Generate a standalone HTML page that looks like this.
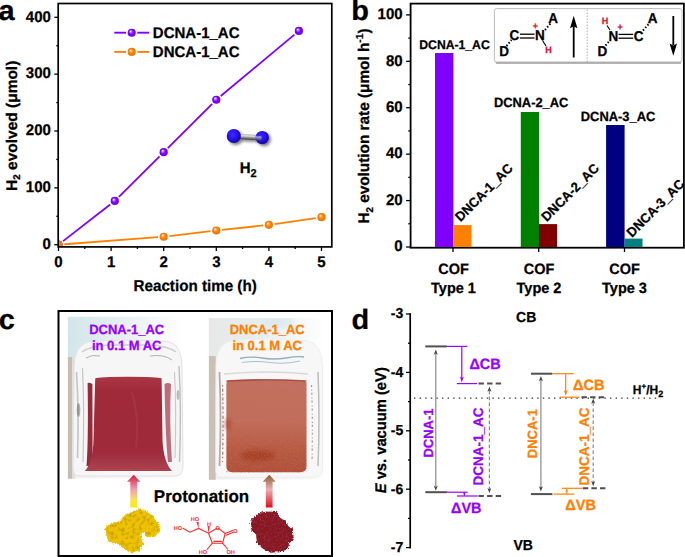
<!DOCTYPE html><html><head><meta charset="utf-8"><style>html,body{margin:0;padding:0;background:#fff;width:685px;height:557px;overflow:hidden}svg{position:absolute;left:0;top:0}text{font-family:"Liberation Sans",sans-serif;font-weight:bold;text-rendering:geometricPrecision}</style></head><body>
<svg width="685" height="557" viewBox="0 0 685 557">
<defs><radialGradient id="gp" cx="0.5" cy="0.5" r="0.5" fx="0.33" fy="0.3"><stop offset="0" stop-color="#ffffff"/><stop offset="0.3" stop-color="#b070ff"/><stop offset="0.55" stop-color="#8000ff"/><stop offset="1" stop-color="#7000ea"/></radialGradient><radialGradient id="go" cx="0.5" cy="0.5" r="0.5" fx="0.33" fy="0.3"><stop offset="0" stop-color="#ffffff"/><stop offset="0.3" stop-color="#ffb060"/><stop offset="0.55" stop-color="#ff8000"/><stop offset="1" stop-color="#f07400"/></radialGradient><radialGradient id="ball" cx="0.42" cy="0.4" r="0.62"><stop offset="0" stop-color="#3c2cff"/><stop offset="0.55" stop-color="#2612ee"/><stop offset="1" stop-color="#120690"/></radialGradient><linearGradient id="bond" x1="0" y1="0" x2="0" y2="1"><stop offset="0" stop-color="#b0b0b0"/><stop offset="0.3" stop-color="#e0e0e0"/><stop offset="1" stop-color="#303030"/></linearGradient><filter id="shadow" x="-30%" y="-30%" width="160%" height="160%"><feGaussianBlur in="SourceAlpha" stdDeviation="1.5"/><feOffset dx="1.5" dy="2" result="o"/><feComponentTransfer><feFuncA type="linear" slope="0.5"/></feComponentTransfer><feMerge><feMergeNode/><feMergeNode in="SourceGraphic"/></feMerge></filter><clipPath id="clip1"><rect x="67.7" y="316.6" width="118.5" height="162.1"/></clipPath><clipPath id="clip2"><rect x="208.7" y="318.1" width="117" height="161.6"/></clipPath><linearGradient id="sky1" x1="0" y1="0" x2="1" y2="0"><stop offset="0" stop-color="#d2e6e9"/><stop offset="0.5" stop-color="#e8f1f2"/><stop offset="0.8" stop-color="#f8fafa"/><stop offset="1" stop-color="#ffffff"/></linearGradient><linearGradient id="sky2" x1="0" y1="0" x2="1" y2="0"><stop offset="0" stop-color="#e8e8e8"/><stop offset="0.45" stop-color="#e6eef0"/><stop offset="0.7" stop-color="#f2f5f6"/><stop offset="1" stop-color="#ffffff"/></linearGradient><linearGradient id="liq1" x1="0" y1="0" x2="0" y2="1"><stop offset="0" stop-color="#aa3644"/><stop offset="0.15" stop-color="#a02a3a"/><stop offset="0.8" stop-color="#9e2a3a"/><stop offset="1" stop-color="#ac4450"/></linearGradient><linearGradient id="liq2" x1="0" y1="0" x2="0" y2="1"><stop offset="0" stop-color="#c47060"/><stop offset="0.45" stop-color="#c26e5c"/><stop offset="0.72" stop-color="#b95c44"/><stop offset="1" stop-color="#b0503a"/></linearGradient><pattern id="grain" width="4" height="4" patternUnits="userSpaceOnUse"><rect width="4" height="4" fill="none"/><rect x="0" y="0" width="1" height="1" fill="#7a2a18"/><rect x="2" y="2" width="1" height="1" fill="#d88070"/><rect x="3" y="1" width="1" height="1" fill="#8a3020"/></pattern><linearGradient id="arr1" x1="0" y1="0" x2="0" y2="1"><stop offset="0" stop-color="#d21c3c"/><stop offset="0.45" stop-color="#eea0b0"/><stop offset="0.75" stop-color="#f6e060"/><stop offset="1" stop-color="#f8ec00"/></linearGradient><linearGradient id="arr2" x1="0" y1="0" x2="0" y2="1"><stop offset="0" stop-color="#8a5a2c"/><stop offset="0.45" stop-color="#eab0b4"/><stop offset="1" stop-color="#e0101e"/></linearGradient><pattern id="ytex" width="5" height="5" patternUnits="userSpaceOnUse"><rect x="0" y="0" width="2" height="2" fill="#c89a00"/><rect x="3" y="2" width="2" height="2" fill="#f8e040"/><rect x="1" y="3" width="1" height="1" fill="#b08000"/></pattern><pattern id="rtex" width="4" height="4" patternUnits="userSpaceOnUse"><rect x="0" y="0" width="1.5" height="1.5" fill="#5a0c10"/><rect x="2" y="2" width="1.5" height="1.5" fill="#b02a2e"/><rect x="3" y="0" width="1" height="1" fill="#6a1014"/></pattern><filter id="rough" x="-10%" y="-10%" width="120%" height="120%"><feTurbulence type="turbulence" baseFrequency="0.45" numOctaves="2" seed="4" result="t"/><feDisplacementMap in="SourceGraphic" in2="t" scale="3.5" xChannelSelector="R" yChannelSelector="G"/></filter><filter id="speckD" x="0" y="0" width="100%" height="100%"><feTurbulence type="fractalNoise" baseFrequency="0.28" numOctaves="2" seed="7"/><feColorMatrix type="matrix" values="0 0 0 0 0.35  0 0 0 0 0.2  0 0 0 0 0  0 0 0 -3.2 1.75"/><feComposite in2="SourceGraphic" operator="in"/></filter><filter id="speckL" x="0" y="0" width="100%" height="100%"><feTurbulence type="fractalNoise" baseFrequency="0.3" numOctaves="2" seed="11"/><feColorMatrix type="matrix" values="0 0 0 0 1  0 0 0 0 0.93  0 0 0 0 0.3  0 0 0 3.0 -1.9"/><feComposite in2="SourceGraphic" operator="in"/></filter><filter id="speckR" x="0" y="0" width="100%" height="100%"><feTurbulence type="fractalNoise" baseFrequency="0.6" numOctaves="2" seed="13"/><feColorMatrix type="matrix" values="0 0 0 0 0.72  0 0 0 0 0.16  0 0 0 0 0.18  0 0 0 3.0 -1.9"/><feComposite in2="SourceGraphic" operator="in"/></filter><filter id="grainf" x="0" y="0" width="100%" height="100%"><feTurbulence type="fractalNoise" baseFrequency="0.7" numOctaves="2" seed="5"/><feColorMatrix type="matrix" values="0 0 0 0 0.5  0 0 0 0 0.16  0 0 0 0 0.1  0 0 0 -3.0 1.55"/></filter><linearGradient id="bg1" x1="0" y1="0" x2="1" y2="0"><stop offset="0" stop-color="#f2f2f2"/><stop offset="0.85" stop-color="#f8f8f8"/><stop offset="1" stop-color="#ffffff"/></linearGradient><linearGradient id="bg2" x1="0" y1="0" x2="1" y2="0"><stop offset="0" stop-color="#eeeeee"/><stop offset="0.85" stop-color="#f6f6f6"/><stop offset="1" stop-color="#ffffff"/></linearGradient><filter id="speckD2" x="0" y="0" width="100%" height="100%"><feTurbulence type="fractalNoise" baseFrequency="0.5" numOctaves="2" seed="9"/><feColorMatrix type="matrix" values="0 0 0 0 0.3  0 0 0 0 0.03  0 0 0 0 0.05  0 0 0 -3.2 1.75"/><feComposite in2="SourceGraphic" operator="in"/></filter><filter id="blur2" x="-50%" y="-50%" width="200%" height="200%"><feGaussianBlur stdDeviation="2"/></filter><clipPath id="clipa"><rect x="58.6" y="3.5" width="273" height="243"/></clipPath></defs>
<g id="pa">
<line x1="54.30" y1="244.70" x2="58.50" y2="244.70" stroke="#000" stroke-width="1.3"/>
<text transform="translate(50.90,248.90) scale(1,1.03)" font-size="15" text-anchor="end" stroke="#000" stroke-width="0.25">0</text>
<line x1="56.30" y1="216.27" x2="58.50" y2="216.27" stroke="#000" stroke-width="1.3"/>
<line x1="54.30" y1="187.85" x2="58.50" y2="187.85" stroke="#000" stroke-width="1.3"/>
<text transform="translate(50.90,192.05) scale(1,1.03)" font-size="15" text-anchor="end" stroke="#000" stroke-width="0.25">100</text>
<line x1="56.30" y1="159.42" x2="58.50" y2="159.42" stroke="#000" stroke-width="1.3"/>
<line x1="54.30" y1="131.00" x2="58.50" y2="131.00" stroke="#000" stroke-width="1.3"/>
<text transform="translate(50.90,135.20) scale(1,1.03)" font-size="15" text-anchor="end" stroke="#000" stroke-width="0.25">200</text>
<line x1="56.30" y1="102.57" x2="58.50" y2="102.57" stroke="#000" stroke-width="1.3"/>
<line x1="54.30" y1="74.15" x2="58.50" y2="74.15" stroke="#000" stroke-width="1.3"/>
<text transform="translate(50.90,78.35) scale(1,1.03)" font-size="15" text-anchor="end" stroke="#000" stroke-width="0.25">300</text>
<line x1="56.30" y1="45.72" x2="58.50" y2="45.72" stroke="#000" stroke-width="1.3"/>
<line x1="54.30" y1="17.30" x2="58.50" y2="17.30" stroke="#000" stroke-width="1.3"/>
<text transform="translate(50.90,21.50) scale(1,1.03)" font-size="15" text-anchor="end" stroke="#000" stroke-width="0.25">400</text>
<line x1="58.50" y1="246.80" x2="58.50" y2="251.00" stroke="#000" stroke-width="1.3"/>
<text transform="translate(58.50,267.40) scale(1,1.03)" font-size="15" text-anchor="middle" stroke="#000" stroke-width="0.25">0</text>
<line x1="84.80" y1="246.80" x2="84.80" y2="249.00" stroke="#000" stroke-width="1.3"/>
<line x1="111.10" y1="246.80" x2="111.10" y2="251.00" stroke="#000" stroke-width="1.3"/>
<text transform="translate(111.10,267.40) scale(1,1.03)" font-size="15" text-anchor="middle" stroke="#000" stroke-width="0.25">1</text>
<line x1="137.40" y1="246.80" x2="137.40" y2="249.00" stroke="#000" stroke-width="1.3"/>
<line x1="163.70" y1="246.80" x2="163.70" y2="251.00" stroke="#000" stroke-width="1.3"/>
<text transform="translate(163.70,267.40) scale(1,1.03)" font-size="15" text-anchor="middle" stroke="#000" stroke-width="0.25">2</text>
<line x1="190.00" y1="246.80" x2="190.00" y2="249.00" stroke="#000" stroke-width="1.3"/>
<line x1="216.30" y1="246.80" x2="216.30" y2="251.00" stroke="#000" stroke-width="1.3"/>
<text transform="translate(216.30,267.40) scale(1,1.03)" font-size="15" text-anchor="middle" stroke="#000" stroke-width="0.25">3</text>
<line x1="242.60" y1="246.80" x2="242.60" y2="249.00" stroke="#000" stroke-width="1.3"/>
<line x1="268.90" y1="246.80" x2="268.90" y2="251.00" stroke="#000" stroke-width="1.3"/>
<text transform="translate(268.90,267.40) scale(1,1.03)" font-size="15" text-anchor="middle" stroke="#000" stroke-width="0.25">4</text>
<line x1="295.20" y1="246.80" x2="295.20" y2="249.00" stroke="#000" stroke-width="1.3"/>
<line x1="321.50" y1="246.80" x2="321.50" y2="251.00" stroke="#000" stroke-width="1.3"/>
<text transform="translate(321.50,267.40) scale(1,1.03)" font-size="15" text-anchor="middle" stroke="#000" stroke-width="0.25">5</text>
<text transform="translate(195.15,291.30) scale(1,1.03)" font-size="15.2" text-anchor="middle" stroke="#000" stroke-width="0.25">Reaction time (h)</text>
<text transform="translate(16.90,190.90) rotate(-90) scale(1.032,1.03)" font-size="15" stroke="#000" stroke-width="0.25">H<tspan font-size="9.5" dy="3.3">2</tspan><tspan dy="-3.3"> evolved (μmol)</tspan></text>
<text transform="translate(-1.60,20.20) scale(1,0.965)" font-size="29" stroke="#000" stroke-width="0.25">a</text>
<g clip-path="url(#clipa)">
<line x1="63.08" y1="241.14" x2="110.20" y2="204.49" stroke="#8000ff" stroke-width="1.8"/>
<line x1="118.89" y1="196.83" x2="159.59" y2="156.30" stroke="#8000ff" stroke-width="1.8"/>
<line x1="167.81" y1="148.11" x2="212.19" y2="103.83" stroke="#8000ff" stroke-width="1.8"/>
<line x1="220.76" y1="96.02" x2="294.43" y2="34.66" stroke="#8000ff" stroke-width="1.8"/>
<circle cx="58.50" cy="244.70" r="4.1" fill="url(#gp)"/>
<circle cx="114.78" cy="200.93" r="4.1" fill="url(#gp)"/>
<circle cx="163.70" cy="152.21" r="4.1" fill="url(#gp)"/>
<circle cx="216.30" cy="99.73" r="4.1" fill="url(#gp)"/>
<circle cx="298.88" cy="30.94" r="4.1" fill="url(#gp)"/>
<line x1="64.28" y1="244.26" x2="157.92" y2="237.18" stroke="#ff8000" stroke-width="1.8"/>
<line x1="169.46" y1="236.06" x2="210.54" y2="231.17" stroke="#ff8000" stroke-width="1.8"/>
<line x1="222.07" y1="229.87" x2="263.13" y2="225.48" stroke="#ff8000" stroke-width="1.8"/>
<line x1="274.64" y1="224.02" x2="315.76" y2="218.02" stroke="#ff8000" stroke-width="1.8"/>
<circle cx="58.50" cy="244.70" r="4.1" fill="url(#go)"/>
<circle cx="163.70" cy="236.74" r="4.1" fill="url(#go)"/>
<circle cx="216.30" cy="230.49" r="4.1" fill="url(#go)"/>
<circle cx="268.90" cy="224.86" r="4.1" fill="url(#go)"/>
<circle cx="321.50" cy="217.18" r="4.1" fill="url(#go)"/>
</g>
<rect x="58.2" y="3.5" width="273.6" height="243.4" fill="none" stroke="#000" stroke-width="1.7"/>
<line x1="114.30" y1="32.70" x2="126.10" y2="32.70" stroke="#8000ff" stroke-width="1.9"/>
<line x1="137.30" y1="32.70" x2="149.10" y2="32.70" stroke="#8000ff" stroke-width="1.9"/>
<circle cx="131.7" cy="32.7" r="4.05" fill="url(#gp)"/>
<text transform="translate(152.80,37.90) scale(1,1.03)" font-size="15" stroke="#000" stroke-width="0.25">DCNA-1_AC</text>
<line x1="114.30" y1="51.90" x2="126.10" y2="51.90" stroke="#ff8000" stroke-width="1.9"/>
<line x1="137.30" y1="51.90" x2="149.10" y2="51.90" stroke="#ff8000" stroke-width="1.9"/>
<circle cx="131.7" cy="51.9" r="4.05" fill="url(#go)"/>
<text transform="translate(152.80,57.10) scale(1,1.03)" font-size="15" stroke="#000" stroke-width="0.25">DNCA-1_AC</text>
<g filter="url(#shadow)">
<rect x="234" y="134.4" width="27.5" height="5.2" fill="url(#bond)" transform="rotate(3.2 247 137)"/>
<circle cx="233.8" cy="136.0" r="7.1" fill="url(#ball)"/>
<circle cx="262.2" cy="137.6" r="6.7" fill="url(#ball)"/>
<rect x="255.5" y="135.2" width="6" height="5.0" rx="1" fill="url(#bond)" opacity="0.6" transform="rotate(3.2 247 137)"/>
</g>
<text transform="translate(239.70,173.10) scale(1,1.03)" font-size="15" stroke="#000" stroke-width="0.25">H<tspan font-size="11" dy="4">2</tspan></text>
</g>
<g id="pb">
<rect x="410.6" y="3.6" width="273.3" height="244.1" fill="none" stroke="#000" stroke-width="1.8"/>
<line x1="406.10" y1="247.00" x2="410.70" y2="247.00" stroke="#000" stroke-width="1.3"/>
<text transform="translate(402.60,251.20) scale(1,1.03)" font-size="15" text-anchor="end" stroke="#000" stroke-width="0.25">0</text>
<line x1="408.30" y1="223.79" x2="410.70" y2="223.79" stroke="#000" stroke-width="1.3"/>
<line x1="406.10" y1="200.58" x2="410.70" y2="200.58" stroke="#000" stroke-width="1.3"/>
<text transform="translate(402.60,204.78) scale(1,1.03)" font-size="15" text-anchor="end" stroke="#000" stroke-width="0.25">20</text>
<line x1="408.30" y1="177.37" x2="410.70" y2="177.37" stroke="#000" stroke-width="1.3"/>
<line x1="406.10" y1="154.16" x2="410.70" y2="154.16" stroke="#000" stroke-width="1.3"/>
<text transform="translate(402.60,158.36) scale(1,1.03)" font-size="15" text-anchor="end" stroke="#000" stroke-width="0.25">40</text>
<line x1="408.30" y1="130.95" x2="410.70" y2="130.95" stroke="#000" stroke-width="1.3"/>
<line x1="406.10" y1="107.74" x2="410.70" y2="107.74" stroke="#000" stroke-width="1.3"/>
<text transform="translate(402.60,111.94) scale(1,1.03)" font-size="15" text-anchor="end" stroke="#000" stroke-width="0.25">60</text>
<line x1="408.30" y1="84.53" x2="410.70" y2="84.53" stroke="#000" stroke-width="1.3"/>
<line x1="406.10" y1="61.32" x2="410.70" y2="61.32" stroke="#000" stroke-width="1.3"/>
<text transform="translate(402.60,65.52) scale(1,1.03)" font-size="15" text-anchor="end" stroke="#000" stroke-width="0.25">80</text>
<line x1="408.30" y1="38.11" x2="410.70" y2="38.11" stroke="#000" stroke-width="1.3"/>
<line x1="406.10" y1="14.90" x2="410.70" y2="14.90" stroke="#000" stroke-width="1.3"/>
<text transform="translate(402.60,19.10) scale(1,1.03)" font-size="15" text-anchor="end" stroke="#000" stroke-width="0.25">100</text>
<line x1="453.00" y1="247.00" x2="453.00" y2="252.00" stroke="#000" stroke-width="1.3"/>
<line x1="538.70" y1="247.00" x2="538.70" y2="252.00" stroke="#000" stroke-width="1.3"/>
<line x1="624.50" y1="247.00" x2="624.50" y2="252.00" stroke="#000" stroke-width="1.3"/>
<rect x="435" y="53" width="18.40" height="194.00" fill="#8000ff"/>
<rect x="453.4" y="225.1" width="18.10" height="21.90" fill="#ff8000"/>
<rect x="520.8" y="112" width="18.20" height="135.00" fill="#008000"/>
<rect x="539.0" y="224.1" width="18.10" height="22.90" fill="#800000"/>
<rect x="606.1" y="125" width="18.50" height="122.00" fill="#000080"/>
<rect x="624.6" y="238.6" width="17.90" height="8.40" fill="#008080"/>
<text transform="translate(454.50,49.20) scale(1,1.03)" font-size="12.2" text-anchor="middle" stroke="#000" stroke-width="0.25">DCNA-1_AC</text>
<text transform="translate(531.15,107.20) scale(1,1.03)" font-size="12.9" text-anchor="middle" stroke="#000" stroke-width="0.25">DCNA-2_AC</text>
<text transform="translate(618.05,120.90) scale(1,1.03)" font-size="12.9" text-anchor="middle" stroke="#000" stroke-width="0.25">DCNA-3_AC</text>
<text transform="translate(460.50,222.30) rotate(-45) scale(1,1.03)" font-size="13" stroke="#000" stroke-width="0.25">DNCA-1_AC</text>
<text transform="translate(546.70,222.30) rotate(-45) scale(1,1.03)" font-size="13" stroke="#000" stroke-width="0.25">DNCA-2_AC</text>
<text transform="translate(632.00,238.00) rotate(-45) scale(1,1.03)" font-size="13" stroke="#000" stroke-width="0.25">DNCA-3_AC</text>
<text transform="translate(453.50,273.50) scale(1,1.03)" font-size="14.5" text-anchor="middle" stroke="#000" stroke-width="0.25">COF</text>
<text transform="translate(453.50,292.90) scale(1,1.03)" font-size="14.5" text-anchor="middle" stroke="#000" stroke-width="0.25">Type 1</text>
<text transform="translate(539.00,273.50) scale(1,1.03)" font-size="14.5" text-anchor="middle" stroke="#000" stroke-width="0.25">COF</text>
<text transform="translate(539.00,292.90) scale(1,1.03)" font-size="14.5" text-anchor="middle" stroke="#000" stroke-width="0.25">Type 2</text>
<text transform="translate(624.50,273.50) scale(1,1.03)" font-size="14.5" text-anchor="middle" stroke="#000" stroke-width="0.25">COF</text>
<text transform="translate(624.50,292.90) scale(1,1.03)" font-size="14.5" text-anchor="middle" stroke="#000" stroke-width="0.25">Type 3</text>
<text transform="translate(369.20,223.60) rotate(-90) scale(1.022,1.03)" font-size="15" stroke="#000" stroke-width="0.25">H<tspan font-size="9.5" dy="3.3">2</tspan><tspan dy="-3.3"> evolution rate (μmol h</tspan><tspan font-size="10" dy="-6.3">-1</tspan><tspan dy="6.3">)</tspan></text>
<text transform="translate(351.20,20.20) scale(1,0.965)" font-size="29" stroke="#000" stroke-width="0.25">b</text>
<rect x="494.4" y="8.6" width="187.6" height="53.4" rx="2.2" fill="#fff" stroke="#b4b4b4" stroke-width="0.9"/>
<path d="M495.8,62.9 L681,62.9" stroke="#9c9c9c" stroke-width="1.5"/>
<line x1="587.20" y1="9.50" x2="587.20" y2="62.50" stroke="#999" stroke-width="0.8" stroke-dasharray="1.5,1.5"/>
<text transform="translate(499.20,56.20) scale(1,1.05)" font-size="13.5" stroke="#000" stroke-width="0.25">D</text>
<text transform="translate(509.50,40.10) scale(1,1.05)" font-size="13.5" stroke="#000" stroke-width="0.25">C</text>
<text transform="translate(535.00,40.10) scale(1,1.05)" font-size="13.5" stroke="#000" stroke-width="0.25">N</text>
<text transform="translate(548.30,22.60) scale(1,1.05)" font-size="13.5" stroke="#000" stroke-width="0.25">A</text>
<line x1="520.00" y1="34.20" x2="534.50" y2="34.20" stroke="#000" stroke-width="1.3"/>
<line x1="520.00" y1="38.00" x2="534.50" y2="38.00" stroke="#000" stroke-width="1.3"/>
<line x1="506.50" y1="46.00" x2="511.50" y2="40.00" stroke="#000" stroke-width="2.0" stroke-dasharray="1.5,1.9"/>
<line x1="545.00" y1="30.00" x2="550.50" y2="23.50" stroke="#000" stroke-width="2.0" stroke-dasharray="1.5,1.9"/>
<line x1="542.50" y1="40.50" x2="546.00" y2="46.00" stroke="#000" stroke-width="1.1"/>
<text transform="translate(545.20,52.80) scale(1,1.03)" font-size="9" fill="#d4122e" stroke="#d4122e" stroke-width="0.25">H</text>
<text transform="translate(535.30,29.00) scale(1,1.03)" font-size="9" text-anchor="middle" fill="#d4122e" stroke="#d4122e" stroke-width="0.25">+</text>
<line x1="573.70" y1="57.50" x2="573.70" y2="26.00" stroke="#000" stroke-width="1.8"/>
<path d="M573.7,15.8 L577.4,28.2 L573.7,26.3 L570.0,28.2 Z" fill="#000"/>
<text transform="translate(597.40,56.20) scale(1,1.05)" font-size="13.5" stroke="#000" stroke-width="0.25">D</text>
<text transform="translate(608.40,40.60) scale(1,1.05)" font-size="13.5" stroke="#000" stroke-width="0.25">N</text>
<text transform="translate(633.80,40.60) scale(1,1.05)" font-size="13.5" stroke="#000" stroke-width="0.25">C</text>
<text transform="translate(647.80,22.60) scale(1,1.05)" font-size="13.5" stroke="#000" stroke-width="0.25">A</text>
<line x1="618.50" y1="34.40" x2="633.20" y2="34.40" stroke="#000" stroke-width="1.3"/>
<line x1="618.50" y1="38.20" x2="633.20" y2="38.20" stroke="#000" stroke-width="1.3"/>
<line x1="605.50" y1="45.50" x2="609.50" y2="41.00" stroke="#000" stroke-width="2.0" stroke-dasharray="1.5,1.9"/>
<line x1="643.00" y1="30.50" x2="650.00" y2="22.50" stroke="#000" stroke-width="2.0" stroke-dasharray="1.5,1.9"/>
<line x1="607.00" y1="25.50" x2="610.00" y2="30.00" stroke="#000" stroke-width="1.1"/>
<text transform="translate(601.80,23.60) scale(1,1.03)" font-size="9" fill="#d4122e" stroke="#d4122e" stroke-width="0.25">H</text>
<text transform="translate(620.00,29.50) scale(1,1.03)" font-size="9" text-anchor="middle" fill="#d4122e" stroke="#d4122e" stroke-width="0.25">+</text>
<line x1="673.30" y1="16.00" x2="673.30" y2="45.00" stroke="#000" stroke-width="1.8"/>
<path d="M673.3,55.7 L677.0,43.5 L673.3,45.5 L669.6,43.5 Z" fill="#000"/>
</g>
<g id="pc">
<g clip-path="url(#clip1)">
<rect x="67.7" y="316.6" width="118.5" height="162.1" fill="url(#bg1)"/>
<rect x="67.7" y="316.6" width="118.5" height="44" fill="url(#sky1)"/>
<rect x="67.7" y="357" width="4.5" height="122" fill="#c6bcb4"/>
<rect x="72.2" y="357" width="3" height="122" fill="#e2deda"/>
<path d="M74,368 Q74,346 88,342 Q128,338 170,342 Q182,346 182,368 L183,466 Q183,476 175,476 L80,476 Q73,476 73,468 Z" fill="#f6f6f6" stroke="#e2e2e2" stroke-width="1"/>
<path d="M82,352 Q90,346 110,345 L150,345 Q168,346 176,352" stroke="#c9cfd2" stroke-width="1.4" fill="none"/>
<path d="M86,358 Q92,354 100,356 M150,356 Q164,354 172,360" stroke="#b0b0b0" stroke-width="1" fill="none"/>
<path d="M76.5,372 Q79,410 77.5,458" stroke="#9a9a9a" stroke-width="1.6" fill="none" opacity="0.55"/>
<ellipse cx="78.5" cy="410" rx="1.8" ry="7" fill="#555" opacity="0.45"/>
<path d="M82.5,368 Q84.5,410 83,462" stroke="#c4c4c4" stroke-width="1.2" fill="none"/>
<path d="M179,366 Q181.5,410 179.5,462" stroke="#a8a8a8" stroke-width="1.4" fill="none" opacity="0.7"/>
<ellipse cx="178" cy="395" rx="1.4" ry="5" fill="#666" opacity="0.4"/>
<path d="M174.5,372 Q176.5,410 175,458" stroke="#c8c8c8" stroke-width="1.1" fill="none"/>
<path d="M87.6,383 Q89,382 92.4,384 L92.6,452 Q92,462 89,466 L86.5,466 Q88.5,440 87.6,383 Z" fill="#9a2a3a"/>
<path d="M164.5,384 Q168,382 171,384 Q169,420 172,462 L168,462 Q165.5,440 164.5,384 Z" fill="#b04a5a" opacity="0.8"/>
<path d="M95.2,378.5 Q98,376.8 128,376.8 Q158,376.8 161.6,378.5 L162.5,440 Q163.5,462 172,471 L84.8,471 Q93,462 93.5,440 Z" fill="url(#liq1)"/>
<path d="M132,392 Q140,420 136,448" stroke="#b04a58" stroke-width="2" fill="none" opacity="0.35"/>
</g>
<g clip-path="url(#clip2)">
<rect x="208.7" y="318.1" width="117" height="161.6" fill="url(#bg2)"/>
<rect x="208.7" y="318.1" width="117" height="40" fill="url(#sky2)"/>
<ellipse cx="278" cy="322" rx="16" ry="6" fill="#d6e8ee" opacity="0.7" filter="url(#blur2)"/>
<rect x="208.7" y="356" width="7" height="124" fill="#cac0b6"/>
<path d="M216,366 Q216,345 230,341 Q268,337 308,341 Q322,345 322.5,366 L322.5,468 Q322.5,477 316,477 L222,477 Q215.7,477 215.7,470 Z" fill="#f7f7f7" stroke="#ececec" stroke-width="0.8"/>
<path d="M240,358.5 Q250,356 262,358 T286,358 T304,357" stroke="#8fb0bc" stroke-width="1.4" fill="none"/>
<path d="M242,362.5 Q256,360.5 270,362.5 T300,361" stroke="#a8c4cc" stroke-width="1.2" fill="none"/>
<path d="M224,374 Q266,370 308,374" stroke="#d8d8d8" stroke-width="1.4" fill="none"/>
<path d="M219.5,372 Q221.5,420 219.5,466" stroke="#b8aaa0" stroke-width="1.8" fill="none"/>
<path d="M222.5,385 Q223.5,420 222.5,462" stroke="#5a3020" stroke-width="1.3" fill="none" opacity="0.55" stroke-dasharray="1.5,2.5,3,2"/>
<path d="M318,372 Q320,420 318,466" stroke="#bcbcbc" stroke-width="1.5" fill="none"/>
<path d="M311.5,385 Q313,420 312,462" stroke="#6a3a28" stroke-width="1.2" fill="none" opacity="0.5" stroke-dasharray="2,3,1,2"/>
<path d="M228,380.5 Q266,378.5 304,380.5 Q306.5,381 306.5,384 L306.5,466 Q306.5,472.2 300,472.2 L232,472.2 Q226.4,472.2 226.4,466 L226.4,384 Q226.4,381 228,380.5 Z" fill="url(#liq2)"/>
<path d="M226.4,381 Q266,378.5 306.5,381" stroke="#9a3c2c" stroke-width="1.6" fill="none" opacity="0.7"/>
<ellipse cx="258" cy="455.5" rx="17" ry="5.5" fill="#a0381c" opacity="0.7" filter="url(#blur2)"/>
<ellipse cx="228" cy="424" rx="3" ry="6" fill="#a03a22" opacity="0.6" filter="url(#blur2)"/>
<rect x="226.4" y="381" width="80.1" height="91.2" filter="url(#grainf)" opacity="0.55"/>
</g>
<path d="M133.75,474.7 L140.3,481.7 L137.2,481.7 L137.2,507.5 L130.3,507.5 L130.3,481.7 L127,481.7 Z" fill="url(#arr1)"/>
<path d="M269.3,474.8 L275.7,481.8 L272.6,481.8 L272.6,507.4 L265.8,507.4 L265.8,481.8 L262.6,481.8 Z" fill="url(#arr2)"/>
<g filter="url(#rough)"><path d="M105.7,525.9 L109.5,523.5 L119.0,521.6 L123.7,515.4 L131.3,512.1 L138.0,508.8 L144.6,510.7 L151.2,514.5 L154.6,519.2 L158.8,524.9 L158.3,530.6 L153.1,535.4 L145.5,535.4 L144.1,529.7 L139.8,533.5 L141.7,543.0 L138.0,549.6 L131.3,552.0 L124.7,547.7 L117.1,543.0 L108.5,541.0 L105.7,533.5 Z" fill="#eec200" stroke="#eec200" stroke-width="1.2" stroke-linejoin="round"/></g>
<path d="M105.7,525.9 L109.5,523.5 L119.0,521.6 L123.7,515.4 L131.3,512.1 L138.0,508.8 L144.6,510.7 L151.2,514.5 L154.6,519.2 L158.8,524.9 L158.3,530.6 L153.1,535.4 L145.5,535.4 L144.1,529.7 L139.8,533.5 L141.7,543.0 L138.0,549.6 L131.3,552.0 L124.7,547.7 L117.1,543.0 L108.5,541.0 L105.7,533.5 Z" fill="#000" filter="url(#speckD)" opacity="0.45"/>
<path d="M105.7,525.9 L109.5,523.5 L119.0,521.6 L123.7,515.4 L131.3,512.1 L138.0,508.8 L144.6,510.7 L151.2,514.5 L154.6,519.2 L158.8,524.9 L158.3,530.6 L153.1,535.4 L145.5,535.4 L144.1,529.7 L139.8,533.5 L141.7,543.0 L138.0,549.6 L131.3,552.0 L124.7,547.7 L117.1,543.0 L108.5,541.0 L105.7,533.5 Z" fill="#000" filter="url(#speckL)" opacity="0.2"/>
<g filter="url(#rough)"><path d="M251.1,519.5 L254.3,515.7 L259.9,512.0 L267.4,511.1 L275.8,511.5 L278.6,517.1 L284.2,520.4 L286.1,525.1 L291.2,527.4 L292.2,537.7 L288.0,542.3 L286.1,548.0 L278.6,550.8 L268.3,551.2 L260.9,546.5 L256.2,540.5 L255.7,533.0 L250.6,529.3 Z" fill="#881820" stroke="#881820" stroke-width="1" stroke-linejoin="round"/></g>
<path d="M251.1,519.5 L254.3,515.7 L259.9,512.0 L267.4,511.1 L275.8,511.5 L278.6,517.1 L284.2,520.4 L286.1,525.1 L291.2,527.4 L292.2,537.7 L288.0,542.3 L286.1,548.0 L278.6,550.8 L268.3,551.2 L260.9,546.5 L256.2,540.5 L255.7,533.0 L250.6,529.3 Z" fill="#000" filter="url(#speckD2)" opacity="0.75"/>
<path d="M251.1,519.5 L254.3,515.7 L259.9,512.0 L267.4,511.1 L275.8,511.5 L278.6,517.1 L284.2,520.4 L286.1,525.1 L291.2,527.4 L292.2,537.7 L288.0,542.3 L286.1,548.0 L278.6,550.8 L268.3,551.2 L260.9,546.5 L256.2,540.5 L255.7,533.0 L250.6,529.3 Z" fill="#000" filter="url(#speckR)" opacity="0.3"/>
<g stroke="#ff2a2a" stroke-width="1.1" fill="none" stroke-linecap="round">
<path d="M183,528.3 L189.9,532.2 L198.6,528.4 L208.5,533.2 L217,528.2"/>
<path d="M218.5,528.4 L225.2,533.5 L222.6,543.2 L212.4,543.2 L208.5,533.2"/>
<path d="M213.8,541.4 L221.4,541.4"/>
<path d="M225.2,533.5 L232.4,530.4 M226.2,535.3 L233.2,532.2"/>
<path d="M212.4,543.2 L207,549.5 M222.6,543.2 L227.5,549"/>
</g>
<path d="M198.6,528.4 L196.4,522 L198.6,521.8 Z" fill="#ff2a2a"/>
<path d="M208.5,533.2 L207.6,526 L209.8,526 Z" fill="#ff2a2a"/>
<g fill="#ff2a2a" font-size="5.6">
<text x="173.8" y="529.6">HO</text>
<text x="190.8" y="520.9">HO</text>
<text x="207" y="525.5">H</text>
<text x="215.4" y="529.8">O</text>
<text x="233.2" y="533.3">O</text>
<text x="198.8" y="553.6">HO</text>
<text x="226.4" y="553.6">OH</text>
</g>
<rect x="58.5" y="311" width="273.5" height="245" fill="none" stroke="#000" stroke-width="2"/>
<text transform="translate(-1.20,329.20) scale(1,0.965)" font-size="29" stroke="#000" stroke-width="0.25">c</text>
<text transform="translate(126.70,334.40) scale(1,1.03)" font-size="13" text-anchor="middle" fill="#9900ff" stroke="#9900ff" stroke-width="0.25">DCNA-1_AC</text>
<text transform="translate(126.70,350.10) scale(1,1.03)" font-size="13" text-anchor="middle" fill="#9900ff" stroke="#9900ff" stroke-width="0.25">in 0.1 M AC</text>
<text transform="translate(267.20,334.40) scale(1,1.03)" font-size="13" text-anchor="middle" fill="#ff8000" stroke="#ff8000" stroke-width="0.25">DNCA-1_AC</text>
<text transform="translate(267.20,350.10) scale(1,1.03)" font-size="13" text-anchor="middle" fill="#ff8000" stroke="#ff8000" stroke-width="0.25">in 0.1 M AC</text>
<text transform="translate(201.55,501.90)" font-size="17" text-anchor="middle" stroke="#000" stroke-width="0.25">Protonation</text>
</g>
<g id="pd">
<line x1="410.20" y1="313.20" x2="410.20" y2="548.40" stroke="#000" stroke-width="1.7"/>
<line x1="406.00" y1="314.00" x2="410.20" y2="314.00" stroke="#000" stroke-width="1.3"/>
<text transform="translate(403.30,318.40) scale(1,1.03)" font-size="14" text-anchor="end" stroke="#000" stroke-width="0.25">-3</text>
<line x1="408.00" y1="343.20" x2="410.20" y2="343.20" stroke="#000" stroke-width="1.3"/>
<line x1="406.00" y1="372.40" x2="410.20" y2="372.40" stroke="#000" stroke-width="1.3"/>
<text transform="translate(403.30,376.80) scale(1,1.03)" font-size="14" text-anchor="end" stroke="#000" stroke-width="0.25">-4</text>
<line x1="408.00" y1="401.60" x2="410.20" y2="401.60" stroke="#000" stroke-width="1.3"/>
<line x1="406.00" y1="430.80" x2="410.20" y2="430.80" stroke="#000" stroke-width="1.3"/>
<text transform="translate(403.30,435.20) scale(1,1.03)" font-size="14" text-anchor="end" stroke="#000" stroke-width="0.25">-5</text>
<line x1="408.00" y1="460.00" x2="410.20" y2="460.00" stroke="#000" stroke-width="1.3"/>
<line x1="406.00" y1="489.20" x2="410.20" y2="489.20" stroke="#000" stroke-width="1.3"/>
<text transform="translate(403.30,493.60) scale(1,1.03)" font-size="14" text-anchor="end" stroke="#000" stroke-width="0.25">-6</text>
<line x1="408.00" y1="518.40" x2="410.20" y2="518.40" stroke="#000" stroke-width="1.3"/>
<line x1="406.00" y1="547.60" x2="410.20" y2="547.60" stroke="#000" stroke-width="1.3"/>
<text transform="translate(403.30,552.00) scale(1,1.03)" font-size="14" text-anchor="end" stroke="#000" stroke-width="0.25">-7</text>
<text transform="translate(351.50,329.20) scale(1,0.965)" font-size="29" stroke="#000" stroke-width="0.25">d</text>
<text transform="translate(385.50,493.30) rotate(-90) scale(0.982,1.03)" font-size="15" stroke="#000" stroke-width="0.25"><tspan font-style="italic">E</tspan> vs. vacuum (eV)</text>
<text transform="translate(526.20,322.10) scale(1,1.03)" font-size="14" text-anchor="middle" stroke="#000" stroke-width="0.25">CB</text>
<text transform="translate(523.20,549.60) scale(1,1.03)" font-size="14" text-anchor="middle" stroke="#000" stroke-width="0.25">VB</text>
<line x1="414.00" y1="398.20" x2="657.00" y2="398.20" stroke="#333" stroke-width="1.3" stroke-dasharray="1.4,4.2"/>
<text transform="translate(632.80,393.60) scale(1,1.03)" font-size="12" stroke="#000" stroke-width="0.25">H<tspan font-size="8" dy="-4.5">+</tspan><tspan dy="4.5">/H</tspan><tspan font-size="9" dy="3.5">2</tspan></text>
<line x1="435.80" y1="353.50" x2="435.80" y2="486.80" stroke="#8a8a8a" stroke-width="1.2"/>
<path d="M435.80,349.50 L437.80,354.70 L435.80,353.40 L433.80,354.70 Z" fill="#444"/>
<path d="M435.80,490.80 L437.80,485.60 L435.80,486.90 L433.80,485.60 Z" fill="#444"/>
<line x1="489.40" y1="390.60" x2="489.40" y2="489.10" stroke="#8a8a8a" stroke-width="1.2" stroke-dasharray="3.6,2.4"/>
<path d="M489.40,386.60 L491.40,391.80 L489.40,390.50 L487.40,391.80 Z" fill="#444"/>
<path d="M489.40,493.10 L491.40,487.90 L489.40,489.20 L487.40,487.90 Z" fill="#444"/>
<line x1="425.30" y1="346.40" x2="446.80" y2="346.40" stroke="#505050" stroke-width="2.0"/>
<line x1="425.30" y1="492.20" x2="446.80" y2="492.20" stroke="#505050" stroke-width="2.0"/>
<line x1="446.30" y1="346.40" x2="467.30" y2="346.40" stroke="#9900ff" stroke-width="1.2"/>
<line x1="446.30" y1="492.20" x2="467.60" y2="492.20" stroke="#9900ff" stroke-width="1.2"/>
<line x1="456.80" y1="383.60" x2="477.20" y2="383.60" stroke="#9900ff" stroke-width="1.2"/>
<line x1="457.00" y1="496.00" x2="477.80" y2="496.00" stroke="#9900ff" stroke-width="1.2"/>
<line x1="478.50" y1="383.60" x2="502.80" y2="383.60" stroke="#505050" stroke-width="2.0" stroke-dasharray="5.4,3.2"/>
<line x1="478.50" y1="496.00" x2="502.80" y2="496.00" stroke="#505050" stroke-width="2.0" stroke-dasharray="5.4,3.2"/>
<line x1="461.80" y1="346.90" x2="461.80" y2="379.60" stroke="#9900ff" stroke-width="1.2"/>
<path d="M461.80,382.40 L463.70,376.40 L461.80,377.90 L459.90,376.40 Z" fill="#9900ff"/>
<line x1="464.30" y1="492.20" x2="464.30" y2="496.00" stroke="#9900ff" stroke-width="1.0"/>
<path d="M464.30,495.20 L465.70,492.20 L464.30,492.95 L462.90,492.20 Z" fill="#9900ff"/>
<line x1="540.90" y1="380.00" x2="540.90" y2="487.40" stroke="#8a8a8a" stroke-width="1.2"/>
<path d="M540.90,376.00 L542.90,381.20 L540.90,379.90 L538.90,381.20 Z" fill="#444"/>
<path d="M540.90,491.40 L542.90,486.20 L540.90,487.50 L538.90,486.20 Z" fill="#444"/>
<line x1="593.20" y1="402.50" x2="593.20" y2="482.20" stroke="#8a8a8a" stroke-width="1.2" stroke-dasharray="3.6,2.4"/>
<path d="M593.20,398.50 L595.20,403.70 L593.20,402.40 L591.20,403.70 Z" fill="#444"/>
<path d="M593.20,486.20 L595.20,481.00 L593.20,482.30 L591.20,481.00 Z" fill="#444"/>
<line x1="530.90" y1="373.70" x2="552.40" y2="373.70" stroke="#505050" stroke-width="2.0"/>
<line x1="530.90" y1="494.10" x2="552.40" y2="494.10" stroke="#505050" stroke-width="2.0"/>
<line x1="552.60" y1="373.70" x2="573.60" y2="373.70" stroke="#ff8000" stroke-width="1.2"/>
<line x1="553.60" y1="494.10" x2="574.30" y2="494.10" stroke="#ff8000" stroke-width="1.2"/>
<line x1="559.40" y1="397.20" x2="579.50" y2="397.20" stroke="#ff8000" stroke-width="1.2"/>
<line x1="562.00" y1="488.30" x2="582.20" y2="488.30" stroke="#ff8000" stroke-width="1.2"/>
<line x1="581.50" y1="397.20" x2="604.50" y2="397.20" stroke="#505050" stroke-width="2.0" stroke-dasharray="5.4,3.2"/>
<line x1="582.80" y1="488.30" x2="606.70" y2="488.30" stroke="#505050" stroke-width="2.0" stroke-dasharray="5.4,3.2"/>
<line x1="565.70" y1="374.20" x2="565.70" y2="393.20" stroke="#ff8000" stroke-width="1.2"/>
<path d="M565.70,396.00 L567.60,390.00 L565.70,391.50 L563.80,390.00 Z" fill="#ff8000"/>
<line x1="566.80" y1="488.30" x2="566.80" y2="494.10" stroke="#ff8000" stroke-width="1.0"/>
<path d="M566.80,489.10 L568.20,492.10 L566.80,491.35 L565.40,492.10 Z" fill="#ff8000"/>
<text transform="translate(469.40,368.90) scale(1,1.03)" font-size="14.5" fill="#9900ff" stroke="#9900ff" stroke-width="0.25">ΔCB</text>
<text transform="translate(451.00,512.60) scale(1,1.03)" font-size="14.5" fill="#9900ff" stroke="#9900ff" stroke-width="0.25">ΔVB</text>
<text transform="translate(573.10,390.40) scale(1,1.03)" font-size="14.5" fill="#ff8000" stroke="#ff8000" stroke-width="0.25">ΔCB</text>
<text transform="translate(565.30,510.20) scale(1,1.03)" font-size="14.5" fill="#ff8000" stroke="#ff8000" stroke-width="0.25">ΔVB</text>
<text transform="translate(433.30,457.60) rotate(-90) scale(1,1.03)" font-size="13" fill="#9900ff" stroke="#9900ff" stroke-width="0.25">DCNA-1</text>
<text transform="translate(483.20,485.60) rotate(-90) scale(1,1.03)" font-size="13.5" fill="#9900ff" stroke="#9900ff" stroke-width="0.25">DCNA-1_AC</text>
<text transform="translate(537.40,458.20) rotate(-90) scale(1,1.03)" font-size="13" fill="#ff8000" stroke="#ff8000" stroke-width="0.25">DNCA-1</text>
<text transform="translate(588.60,485.40) rotate(-90) scale(1,1.03)" font-size="13.5" fill="#ff8000" stroke="#ff8000" stroke-width="0.25">DNCA-1_AC</text>
</g>
</svg></body></html>
